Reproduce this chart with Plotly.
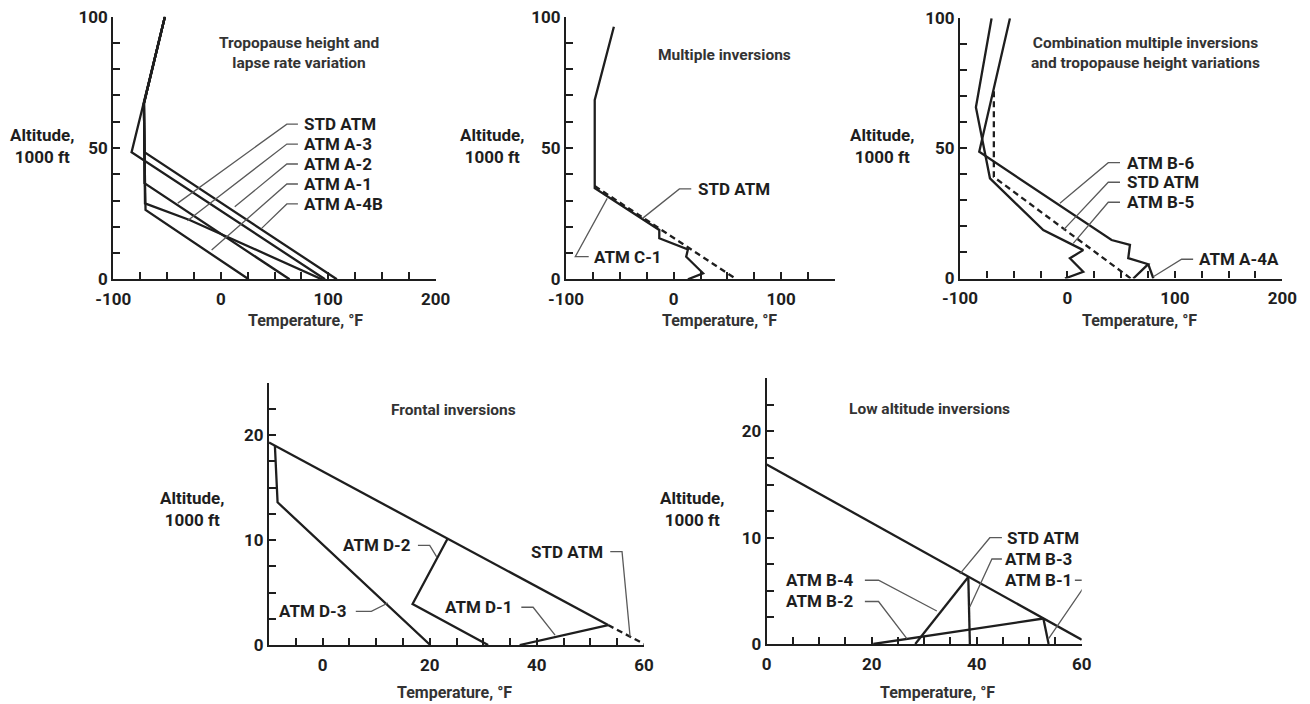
import plotly.graph_objects as go

# ---------------- DATA : temperature (deg F) / altitude (1000 ft) ----------------
# Panel 1 - Tropopause height and lapse rate variation
P1_STD_T = [-52, -71.5, -71, -71, 64]
P1_STD_ALT = [100, 67, 48.4, 36.6, 0]
P1_A2_T = [-52, -71.5, -71, 108]
P1_A2_ALT = [100, 67, 48.4, 0]
P1_A4B_T = [-52, -71.5, -83, 97]
P1_A4B_ALT = [100, 67, 48.4, 0]
P1_A3_T = [-52, -71.5, -71, -70.5, -29, 94]
P1_A3_ALT = [100, 67, 48.4, 28.9, 22.6, 0]
P1_A1_T = [-52, -71.5, -71, -70, 26]
P1_A1_ALT = [100, 67, 48.4, 26.4, 0]

# Panel 2 - Multiple inversions
P2_C1_T = [-55.5, -73.3, -73.3, -13.3, -13.3, 13.3, 11.7, 27.4, 13.3]
P2_C1_ALT = [96.2, 68.3, 34.7, 18.8, 15.6, 11.4, 8.6, 2.3, 0]
P2_STD_T = [-73.3, 58.6]
P2_STD_ALT = [35.5, 0]

# Panel 3 - Combination multiple inversions and tropopause height variations
P3_B5_T = [-70.6, -85.2, -72.1, -22.5, 14.7, 2.3, 14.7, -2.3]
P3_B5_ALT = [100, 65.8, 38.5, 18.6, 10.9, 7.8, 2.6, 0]
P3_B6_T = [-53.5, -82.1, 41.1, 58.2, 56.6, 75.2, 61.3]
P3_B6_ALT = [100, 48.7, 14.8, 12.9, 7.8, 5.5, 0]
P3_STD_T = [-68.5, -68.5, 59]
P3_STD_ALT = [72, 39, 0]
P3_A4A_T = [75.2, 80]
P3_A4A_ALT = [5.5, 0]

# Panel 4 - Frontal inversions
P4_STD_T = [-10, 53.3]
P4_STD_ALT = [19.3, 1.9]
P4_STDX_T = [53.3, 60]
P4_STDX_ALT = [1.9, 0.1]
P4_D3_T = [-8.9, -8.4, 20.1]
P4_D3_ALT = [19.0, 13.6, 0]
P4_D2_T = [23.3, 16.8, 30.9]
P4_D2_ALT = [10.1, 3.9, 0]
P4_D1_T = [53.3, 36.8]
P4_D1_ALT = [1.9, 0]

# Panel 5 - Low altitude inversions
P5_STD_T = [0, 60]
P5_STD_ALT = [16.9, 0.4]
P5_B2_T = [20.3, 52.7]
P5_B2_ALT = [0, 2.4]
P5_B1_T = [52.7, 53.7]
P5_B1_ALT = [2.4, 0]
P5_B4_T = [28.3, 38.4]
P5_B4_ALT = [0, 6.3]
P5_B3_T = [38.4, 38.7]
P5_B3_ALT = [6.3, 0]

# tick labels
TOP_X_TICKS = [-100, 0, 100, 200]
TOP_X_LABELS = ["-100", "0", "100", "200"]
TOP_Y_TICKS = [0, 50, 100]
TOP_Y_LABELS = ["0", "50", "100"]
BOT_X_TICKS = [0, 20, 40, 60]
BOT_X_LABELS = ["0", "20", "40", "60"]
BOT_Y_TICKS = [0, 10, 20]
BOT_Y_LABELS = ["0", "10", "20"]

PANEL_TITLES = [
    "Tropopause height and<br>lapse rate variation",
    "Multiple inversions",
    "Combination multiple inversions<br>and tropopause height variations",
    "Frontal inversions",
    "Low altitude inversions",
]
X_TITLE = "Temperature, °F"
Y_TITLE = "Altitude,<br>1000 ft"

# ---------------- styling / layout ----------------
FONT = "Roboto, Liberation Sans, sans-serif"
INK = "#1e1e1e"
LEAD = "#5a5a5a"

SERIES = [
    ("", P1_STD_T, P1_STD_ALT, "solid"),
    ("", P1_A2_T, P1_A2_ALT, "solid"),
    ("", P1_A4B_T, P1_A4B_ALT, "solid"),
    ("", P1_A3_T, P1_A3_ALT, "solid"),
    ("", P1_A1_T, P1_A1_ALT, "solid"),
    ("2", P2_C1_T, P2_C1_ALT, "solid"),
    ("2", P2_STD_T, P2_STD_ALT, "dash"),
    ("3", P3_B5_T, P3_B5_ALT, "solid"),
    ("3", P3_B6_T, P3_B6_ALT, "solid"),
    ("3", P3_STD_T, P3_STD_ALT, "dash"),
    ("3", P3_A4A_T, P3_A4A_ALT, "solid"),
    ("4", P4_STD_T, P4_STD_ALT, "solid"),
    ("4", P4_STDX_T, P4_STDX_ALT, "dash"),
    ("4", P4_D3_T, P4_D3_ALT, "solid"),
    ("4", P4_D2_T, P4_D2_ALT, "solid"),
    ("4", P4_D1_T, P4_D1_ALT, "solid"),
    ("5", P5_STD_T, P5_STD_ALT, "solid"),
    ("5", P5_B2_T, P5_B2_ALT, "solid"),
    ("5", P5_B1_T, P5_B1_ALT, "solid"),
    ("5", P5_B4_T, P5_B4_ALT, "solid"),
    ("5", P5_B3_T, P5_B3_ALT, "solid"),
]

# label text, anchor point, anchor side, leader path (data units of that panel)
LABELS = [
    ("", "STD ATM", 75.3, 59.1, "left", [(71.8, 59.1), (61.5, 59.1), (-40, 29)]),
    ("", "ATM A-3", 75.3, 51.5, "left", [(71.8, 51.5), (61.5, 51.5), (-31, 22.3)]),
    ("", "ATM A-2", 75.3, 43.9, "left", [(71.8, 43.9), (61.5, 43.9), (13, 27.6)]),
    ("", "ATM A-1", 75.3, 36.3, "left", [(71.8, 36.3), (61.5, 36.3), (-8.5, 11.2)]),
    ("", "ATM A-4B", 75.3, 28.7, "left", [(71.8, 28.7), (61.5, 28.7), (38, 19.4)]),
    ("2", "STD ATM", 21.1, 34.4, "left", [(16.4, 34.4), (5.4, 34.4), (-28.9, 23.2)]),
    ("2", "ATM C-1", -75.7, 8.6, "left", [(-78.9, 8.6), (-91.4, 8.6), (-61.7, 30.8)]),
    ("3", "ATM B-6", 53.5, 44.5, "left", [(48.9, 44.5), (38, 44.5), (-7, 28.9)]),
    ("3", "STD ATM", 53.5, 37.0, "left", [(48.9, 37.0), (38, 37.0), (-3.9, 18.6)]),
    ("3", "ATM B-5", 53.5, 29.3, "left", [(48.9, 29.3), (38, 29.3), (5.4, 13.5)]),
    ("3", "ATM A-4A", 120.3, 7.4, "left", [(117, 7.4), (106.3, 7.4), (79.9, 0.7)]),
    ("4", "ATM D-2", 16.8, 9.5, "right", [(17.8, 9.5), (20, 9.5), (21.3, 8.4)]),
    ("4", "STD ATM", 52.7, 8.9, "right", [(53.7, 8.9), (55.9, 8.9), (57.4, 0.8)]),
    ("4", "ATM D-3", 5.0, 3.2, "right", [(6.2, 3.2), (9.1, 3.2), (12.2, 4.0)]),
    ("4", "ATM D-1", 35.9, 3.6, "right", [(37.1, 3.6), (39.3, 3.6), (43.4, 0.95)]),
    ("5", "STD ATM", 45.4, 10.0, "left", [(44.8, 10.0), (42.5, 10.0), (36.8, 6.6)]),
    ("5", "ATM B-3", 45.1, 8.0, "left", [(44.8, 8.0), (42.9, 8.0), (38.7, 3.5)]),
    ("5", "ATM B-1", 45.1, 6.0, "left", [(58.7, 6.0), (61.3, 6.0), (53.7, 0.5)]),
    ("5", "ATM B-4", 17.1, 6.0, "right", [(18.7, 6.0), (21.3, 6.0), (32.4, 3.1)]),
    ("5", "ATM B-2", 17.1, 4.0, "right", [(18.7, 4.0), (21.3, 4.0), (26.7, 0.5)]),
]

# panel title positions (data units)
TITLE_POS = [("", 72.8, 86.2), ("2", 47, 85.6), ("3", 73.1, 86.6), ("4", 24.5, 22.4), ("5", 31, 22.1)]

W, H = 1310, 704
# panel frames in pixels: (left, right, top, bottom)
FRAMES = {
    "": (113.3, 435.7, 16.7, 279.3),
    "2": (566, 835, 16.7, 279.3),
    "3": (960, 1282.3, 18.3, 278.5),
    "4": (269, 644, 382.7, 645),
    "5": (766.7, 1081.7, 378.3, 644),
}
# x range, y range, x ticks/labels, minor x step, y ticks/labels, minor y step
RANGES = {
    "": ([-100, 200], [0, 100], TOP_X_TICKS, TOP_X_LABELS, 25, TOP_Y_TICKS, TOP_Y_LABELS, 10),
    "2": ([-100, 150], [0, 100], TOP_X_TICKS[:3], TOP_X_LABELS[:3], 25, TOP_Y_TICKS, TOP_Y_LABELS, 10),
    "3": ([-100, 200], [0, 100], TOP_X_TICKS, TOP_X_LABELS, 25, TOP_Y_TICKS, TOP_Y_LABELS, 10),
    "4": ([-10, 60], [0, 25], BOT_X_TICKS, BOT_X_LABELS, 5, BOT_Y_TICKS, BOT_Y_LABELS, 2.5),
    "5": ([0, 60], [0, 25], BOT_X_TICKS, BOT_X_LABELS, 5, BOT_Y_TICKS, BOT_Y_LABELS, 2.5),
}
# axis-title centres in pixels
YT_POS = {"": (42, 146), "2": (491.7, 146), "3": (881.7, 146), "4": (191.7, 509), "5": (691.7, 509)}
XT_POS = {"": (305, 320), "2": (719, 320), "3": (1139, 320), "4": (454, 692), "5": (937.5, 692)}


def fnt(size, color=INK):
    return dict(family=FONT, size=size, color=color, weight="bold")


fig = go.Figure()
for sfx, t, a, dash in SERIES:
    fig.add_trace(go.Scatter(x=t, y=a, mode="lines", xaxis="x" + sfx, yaxis="y" + sfx,
                             line=dict(color=INK, width=2.3, dash=dash if dash == "solid" else "6px,4px"),
                             hoverinfo="skip", showlegend=False))

layout = dict(width=W, height=H, margin=dict(l=0, r=0, t=0, b=0, autoexpand=False), autosize=False,
              paper_bgcolor="white", plot_bgcolor="white", showlegend=False)
for sfx, (l, r, t, b) in FRAMES.items():
    xr, yr, xt, xl, xm, yt, yl, ym = RANGES[sfx]
    common = dict(showline=True, linecolor=INK, linewidth=2.2, ticks="inside", ticklen=7,
                  tickwidth=2, tickcolor=INK, showgrid=False, zeroline=False, tickfont=fnt(17),
                  fixedrange=True, automargin=False, tickmode="array")
    layout["xaxis" + sfx] = dict(common, domain=[l / W, r / W], range=xr, tickvals=xt, ticktext=xl,
                                 anchor="y" + sfx, ticklabelstandoff=3,
                                 minor=dict(ticks="inside", tickmode="linear", dtick=xm, tick0=0,
                                            ticklen=7, tickwidth=2, tickcolor=INK, showgrid=False))
    layout["yaxis" + sfx] = dict(common, domain=[1 - b / H, 1 - t / H], range=yr, tickvals=yt,
                                 ticktext=yl, anchor="x" + sfx,
                                 minor=dict(ticks="inside", tickmode="linear", dtick=ym, tick0=0,
                                            ticklen=7, tickwidth=2, tickcolor=INK, showgrid=False))
fig.update_layout(**layout)

annotations = []
shapes = []
for sfx, text, x, y, side, path in LABELS:
    annotations.append(dict(x=x, y=y, xref="x" + sfx, yref="y" + sfx, text=text, showarrow=False,
                            xanchor=side, yanchor="middle", font=fnt(17)))
    d = "M " + " L ".join(f"{px},{py}" for px, py in path)
    shapes.append(dict(type="path", path=d, xref="x" + sfx, yref="y" + sfx,
                       line=dict(color=LEAD, width=1.3)))

for (sfx, x, y), title in zip(TITLE_POS, PANEL_TITLES):
    annotations.append(dict(x=x, y=y, xref="x" + sfx, yref="y" + sfx, text=title, showarrow=False,
                            xanchor="center", yanchor="middle", font=fnt(15.5, "#333")))

for sfx in FRAMES:
    px, py = YT_POS[sfx]
    annotations.append(dict(x=px / W, y=1 - py / H, xref="paper", yref="paper", text=Y_TITLE,
                            showarrow=False, xanchor="center", yanchor="middle", align="center",
                            font=fnt(17)))
    px, py = XT_POS[sfx]
    annotations.append(dict(x=px / W, y=1 - py / H, xref="paper", yref="paper", text=X_TITLE,
                            showarrow=False, xanchor="center", yanchor="middle", font=fnt(16, "#333")))

fig.update_layout(annotations=annotations, shapes=shapes)
fig.write_html("out.html", config={"displayModeBar": False},
               post_script="document.body.style.margin='0';")
